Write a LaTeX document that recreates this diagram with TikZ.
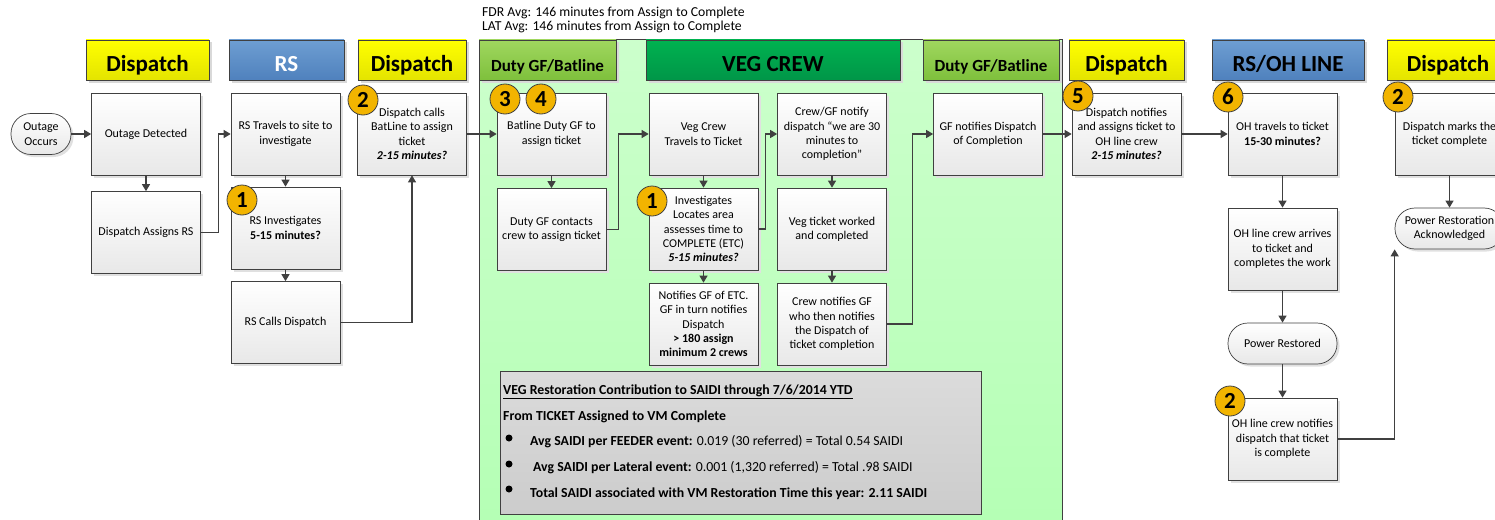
\documentclass[tikz,border=0pt]{standalone}
\usepackage{fontspec}
\setmainfont{Carlito}
\usepackage{tikz}
\usetikzlibrary{arrows.meta,positioning,calc,shadows}

\definecolor{lineGray}{RGB}{64,64,64}
\definecolor{boxBottom}{RGB}{232,232,232}
\definecolor{yellowTop}{RGB}{255,255,0}
\definecolor{yellowBot}{RGB}{228,228,0}
\definecolor{blueTop}{RGB}{110,158,210}
\definecolor{blueBot}{RGB}{79,129,189}
\definecolor{lgreenTop}{RGB}{160,215,95}
\definecolor{lgreenBot}{RGB}{126,192,60}
\definecolor{vegTop}{RGB}{0,178,80}
\definecolor{vegBot}{RGB}{0,150,72}
\definecolor{panelTop}{RGB}{204,255,204}
\definecolor{panelBot}{RGB}{180,255,180}
\definecolor{badgeOrange}{RGB}{242,180,0}

\begin{document}
\begin{tikzpicture}[
        x=1pt, y=-1pt,
        font=\fontsize{12}{14.3}\selectfont,
        >={Triangle[length=7pt,width=8pt]},
        % Block styles
        header/.style={
            rectangle,
            draw=lineGray,
            line width=0.8pt,
            minimum height=40pt,
            minimum width=#1,
            text height=22pt,
            text depth=0pt,
            font=\fontsize{23}{26}\selectfont\bfseries,
            general shadow={fill=black!15, shadow xshift=2.5pt, shadow yshift=-2.5pt}
        },
        yellowhead/.style={top color=yellowTop, bottom color=yellowBot},
        bluehead/.style={top color=blueTop, bottom color=blueBot},
        dutyhead/.style={top color=lgreenTop, bottom color=lgreenBot, font=\fontsize{17}{20}\selectfont\bfseries},
        veghead/.style={top color=vegTop, bottom color=vegBot},
        process/.style={
            rectangle,
            draw=lineGray,
            line width=0.7pt,
            minimum width=109pt,
            minimum height=82pt,
            inner sep=1pt,
            align=center,
            top color=white,
            bottom color=boxBottom,
            general shadow={fill=black!12, shadow xshift=2.5pt, shadow yshift=-2.5pt}
        },
        terminal/.style={process, rounded corners=20pt, minimum height=41pt},
        badge/.style={
            circle,
            draw=black!75,
            line width=0.8pt,
            fill=badgeOrange,
            minimum size=30pt,
            inner sep=0pt,
            font=\fontsize{23}{23}\selectfont\bfseries
        },
        bullet/.style={circle, fill=black, minimum size=7pt, inner sep=0pt},
        note/.style={anchor=west, inner sep=0pt, font=\fontsize{13.7}{15}\selectfont},
        saiditext/.style={anchor=west, inner sep=0pt, font=\fontsize{13.8}{16}\selectfont},
        arrow/.style={->, draw=lineGray, line width=1.2pt}
    ]

    \useasboundingbox (0,0) rectangle (1495,519);
    \clip (0,0) rectangle (1495,519);

    % Veg crew area
    \node[rectangle, draw=lineGray, line width=0.8pt, top color=panelTop, bottom color=panelBot,
          minimum width=583pt, minimum height=500pt, anchor=north west] (vegpanel) at (479,39) {};
    \node[note] (fdravg) at (482,12.5) {FDR Avg: 146 minutes from Assign to Complete};
    \node[note] (latavg) at (482,26.5) {LAT Avg: 146 minutes from Assign to Complete};

    % Headers
    \node[header=123pt, yellowhead] (hdispA) at (147.5,60) {Dispatch};
    \node[header=115pt, bluehead, text=white] (hrs) at (286.5,60) {RS};
    \node[header=108pt, yellowhead] (hdispB) at (412,60) {Dispatch};
    \node[header=137pt, dutyhead] (hdutyA) at (547.5,60) {Duty GF/Batline};
    \node[header=254pt, veghead] (hveg) at (773,60) {VEG CREW};
    \node[header=136pt, dutyhead] (hdutyB) at (991,60) {Duty GF/Batline};
    \node[header=115pt, yellowhead] (hdispC) at (1126.5,60) {Dispatch};
    \node[header=152pt, bluehead] (hrsoh) at (1288,60) {RS/OH LINE};
    \node[header=122pt, yellowhead] (hdispD) at (1448,60) {Dispatch};

    % Dispatch and RS
    \node[terminal, minimum width=60pt] (outage) at (41,134) {Outage\\Occurs};
    \node[process] (detect) at (146,134) {Outage Detected};
    \node[process] (assignrs) at (146,232.5) {Dispatch Assigns RS};
    \node[process] (rstravel) at (285.5,134) {RS Travels to site to\\investigate};
    \node[process] (rsinv) at (285.5,228) {RS Investigates\\\textbf{5-15 minutes?}};
    \node[process] (rscalls) at (285.5,322.5) {RS Calls Dispatch};
    \node[process] (dispcall) at (412,134) {Dispatch calls\\BatLine to assign\\ticket\\\textbf{\textit{2-15 minutes?}}};

    % Duty GF and veg crew
    \node[process] (batline) at (551.5,134) {Batline Duty GF to\\assign ticket};
    \node[process] (gfcontact) at (551.5,229.5) {Duty GF contacts\\crew to assign ticket};
    \node[process] (vegtravel) at (703.5,134) {Veg Crew\\Travels to Ticket};
    \node[process] (veginv) at (703.5,229) {Investigates\\Locates area\\assesses time to\\COMPLETE (ETC)\\\textbf{\textit{5-15 minutes?}}};
    \node[process] (etcnotify) at (703.5,324) {Notifies GF of ETC.\\GF in turn notifies\\Dispatch\\\textbf{> 180 assign}\\\textbf{minimum 2 crews}};
    \node[process] (crewgf) at (832,134) {Crew/GF notify\\dispatch “we are 30\\minutes to\\completion”};
    \node[process] (vegworked) at (832,229) {Veg ticket worked\\and completed};
    \node[process] (crewnotify) at (832,324) {Crew notifies GF\\who then notifies\\the Dispatch of\\ticket completion};
    \node[process] (gfnotify) at (988,134) {GF notifies Dispatch\\of Completion};

    % SAIDI summary
    \node[rectangle, draw=lineGray, line width=0.8pt, top color=black!14, bottom color=black!20,
          minimum width=481pt, minimum height=143pt] (saidi) at (740.5,442.5) {};
    \node[saiditext, font=\fontsize{13.8}{16}\selectfont\bfseries] (saidihead) at (503,392) {\underline{VEG Restoration Contribution to SAIDI through 7/6/2014 YTD}};
    \node[saiditext, font=\fontsize{13.8}{16}\selectfont\bfseries] (saidisub) at (503,417) {From TICKET Assigned to VM Complete};
    \node[bullet] (dotA) at (509,438) {};
    \node[bullet] (dotB) at (509,464) {};
    \node[bullet] (dotC) at (509,489) {};
    \node[saiditext] (feeder) at (530,442) {\textbf{Avg SAIDI per FEEDER event:} 0.019 (30 referred) = Total 0.54 SAIDI};
    \node[saiditext] (lateral) at (533,468) {\textbf{Avg SAIDI per Lateral event:} 0.001 (1,320 referred) = Total .98 SAIDI};
    \node[saiditext, font=\fontsize{13.8}{16}\selectfont\bfseries] (total) at (530,494) {Total SAIDI associated with VM Restoration Time this year: 2.11 SAIDI};

    % Dispatch and OH line
    \node[process] (dispnotify) at (1126.5,134) {Dispatch notifies\\and assigns ticket to\\OH line crew\\\textbf{\textit{2-15 minutes?}}};
    \node[process] (ohtravel) at (1282.5,134) {OH travels to ticket\\\textbf{15-30 minutes?}};
    \node[process] (oharrive) at (1282.5,249) {OH line crew arrives\\to ticket and\\completes the work};
    \node[terminal] (powerrest) at (1282.5,343.5) {Power Restored};
    \node[process] (ohnotify) at (1282.5,439) {OH line crew notifies\\dispatch that ticket\\is complete};
    \node[process] (dispmark) at (1449.5,134) {Dispatch marks the\\ticket complete};
    \node[terminal] (ack) at (1449.5,228.5) {Power Restoration\\Acknowledged};

    % Step badges
    \node[badge] (stepA) at (242,200) {1};
    \node[badge] (stepB) at (363,100) {2};
    \node[badge] (stepC) at (505,99) {3};
    \node[badge] (stepD) at (541,99) {4};
    \node[badge] (stepE) at (652,201) {1};
    \node[badge] (stepF) at (1078,96) {5};
    \node[badge] (stepG) at (1228,97) {6};
    \node[badge] (stepH) at (1398,97) {2};
    \node[badge] (stepI) at (1230,401) {2};

    % Connections
    \draw[arrow] (outage) -- (detect);
    \draw[arrow] (detect) -- (assignrs);
    \draw[arrow] (assignrs.east) -- ++(18,0) |- (rstravel.west);
    \draw[arrow] (rstravel) -- (rsinv);
    \draw[arrow] (rsinv) -- (rscalls);
    \draw[arrow] (rscalls.east) -| (dispcall.south);
    \draw[arrow] (dispcall) -- (batline);
    \draw[arrow] (batline) -- (gfcontact);
    \draw[arrow] (gfcontact.east) -- ++(12,0) |- (vegtravel.west);
    \draw[arrow] (vegtravel) -- (veginv);
    \draw[arrow] (veginv) -- (etcnotify);
    \draw[arrow] (veginv.east) -- ++(7,0) |- (crewgf.west);
    \draw[arrow] (crewgf) -- (vegworked);
    \draw[arrow] (vegworked) -- (crewnotify);
    \draw[arrow] (crewnotify.east) -- ++(26,0) |- (gfnotify.west);
    \draw[arrow] (gfnotify) -- (dispnotify);
    \draw[arrow] (dispnotify) -- (ohtravel);
    \draw[arrow] (ohtravel) -- (oharrive);
    \draw[arrow] (oharrive) -- (powerrest);
    \draw[arrow] (powerrest) -- (ohnotify);
    \draw[arrow] (ohnotify.east) -| (ack.south west);
    \draw[arrow] (dispmark) -- (ack);

\end{tikzpicture}
\end{document}
